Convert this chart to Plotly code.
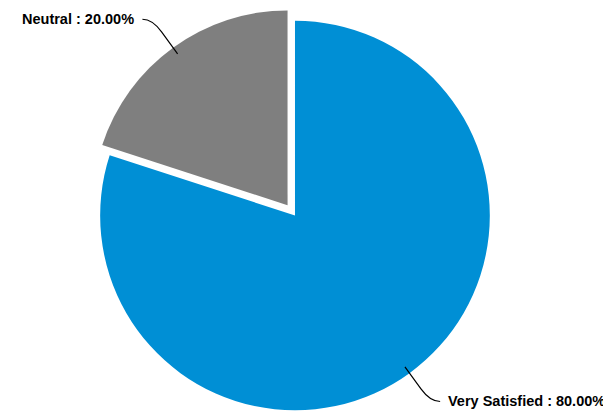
import math
import plotly.graph_objects as go

labels = ["Very Satisfied", "Neutral"]
values = [80, 20]
colors = ["#008FD5", "#7F7F7F"]
pulls = [0, 0.065]

W, H = 611, 415
DOM_X = [0, 0.9394]
DOM_Y = [0, 1]
FONT = "Liberation Sans, Arial, sans-serif"

fig = go.Figure(go.Pie(
    labels=labels,
    values=values,
    marker=dict(colors=colors, line=dict(width=0)),
    pull=pulls,
    sort=False,
    direction="clockwise",
    rotation=0,
    textinfo="none",
    automargin=False,
    domain=dict(x=DOM_X, y=DOM_Y),
    hoverinfo="label+percent",
))

# pie geometry (same rules plotly uses), in figure pixels (y down)
boxW = W * (DOM_X[1] - DOM_X[0])
boxH = H * (DOM_Y[1] - DOM_Y[0])
r = min(boxW, boxH) / 2 / (1 + max(pulls))
cx = W * (DOM_X[0] + DOM_X[1]) / 2
cy = H * (1 - DOM_Y[0]) - boxH / 2

def to_paper(px, py):
    return px / W, 1 - py / H

total = sum(values)
cum = 0
shapes = []
annotations = []
for lab, val, pl in zip(labels, values, pulls):
    mid = (cum + val / 2) / total * 2 * math.pi
    cum += val
    ux, uy = math.sin(mid), -math.cos(mid)
    ox, oy = cx + pl * r * ux, cy + pl * r * uy
    sgn = 1 if ux >= 0 else -1
    S = (ox + 0.96 * r * ux, oy + 0.96 * r * uy)
    K = (ox + 1.10 * r * ux, oy + 1.10 * r * uy)
    Q = (ox + 1.18 * r * ux, oy + 1.18 * r * uy)
    E = (Q[0] + sgn * 10, Q[1])
    pts = [to_paper(*p) for p in (S, K, Q, E)]
    path = "M {} {} L {} {} Q {} {} {} {}".format(
        pts[0][0], pts[0][1], pts[1][0], pts[1][1],
        pts[2][0], pts[2][1], pts[3][0], pts[3][1])
    shapes.append(dict(type="path", xref="paper", yref="paper", path=path,
                       line=dict(color="#000000", width=1.2)))
    lx, ly = to_paper(E[0] + sgn * 6, E[1])
    pct = val / total * 100
    annotations.append(dict(
        x=lx, y=ly, xref="paper", yref="paper",
        xanchor="left" if sgn > 0 else "right", yanchor="middle",
        text="<b>{} : {:.2f}%</b>".format(lab, pct),
        showarrow=False,
        font=dict(family=FONT, size=14.5, color="#000000"),
    ))

fig.update_layout(
    width=W,
    height=H,
    margin=dict(l=0, r=0, t=0, b=0),
    showlegend=False,
    paper_bgcolor="white",
    plot_bgcolor="white",
    shapes=shapes,
    annotations=annotations,
)

fig.write_html("out.html")
